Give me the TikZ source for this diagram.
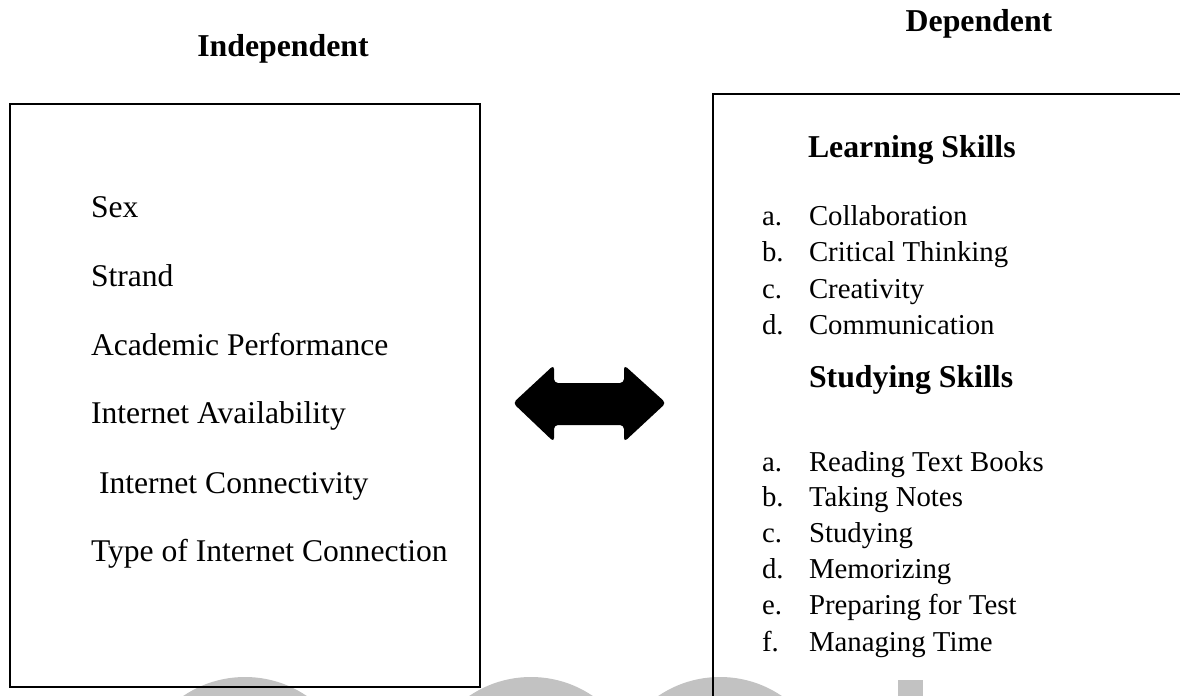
\documentclass[tikz,border=0pt]{standalone}
\usepackage{fontspec}
\setmainfont{Liberation Serif}
\definecolor{wmgrey}{RGB}{194,194,194}
\begin{document}
\begin{tikzpicture}[x=0.5pt,y=-0.5pt,
  every node/.style={inner sep=0pt,outer sep=0pt},
  item/.style={anchor=base west,font=\fontsize{14.4}{17}\selectfont},
  bigitem/.style={anchor=base west,font=\fontsize{15.8}{19}\selectfont},
  head/.style={anchor=base,font=\fontsize{15.9}{19}\selectfont\bfseries},
  subhead/.style={anchor=base west,font=\fontsize{15.9}{19}\selectfont\bfseries},
  frame/.style={draw=black}]
\clip (0,0) rectangle (1180,696);
\fill[white] (0,0) rectangle (1180,696);

% faint grey lettering along the bottom edge
\fill[wmgrey] (245,787) circle (110);
\fill[wmgrey] (531,787) circle (110);
\fill[wmgrey] (720,787) circle (110);
\fill[wmgrey] (898,680) rectangle (923,710);

% column titles
\node[head] (indep) at (283,56) {Independent};
\node[head] (dep) at (979,32) {Dependent};

% left box
\draw[frame,line width=1.3pt] (10,104) rectangle (480,687);
\node[bigitem] (sex) at (91,217) {Sex};
\node[bigitem] (strand) at (91,286) {Strand};
\node[bigitem] (acad) at (91,355) {Academic Performance};
\node[bigitem] (avail) at (91,423) {Internet Availability};
\node[bigitem] (conn) at (99,493) {Internet Connectivity};
\node[bigitem] (type) at (91,561) {Type of Internet Connection};

% right box (runs past the right and bottom edges)
\draw[frame,line width=1.1pt] (1200,94) -- (713,94) -- (713,720);
\node[subhead] (learn) at (808,157) {Learning Skills};
\foreach \l/\t/\y [count=\i] in {a./Collaboration/225, b./Critical Thinking/261,
    c./Creativity/298, d./Communication/334}{
  \node[item] (ll\i) at (762,\y) {\l};
  \node[item] (lt\i) at (809,\y) {\t};
}
\node[subhead] (study) at (809,387) {Studying Skills};
\foreach \l/\t/\y [count=\i] in {a./Reading Text Books/471, b./Taking Notes/506,
    c./Studying/542, d./Memorizing/578, e./Preparing for Test/614, f./Managing Time/651}{
  \node[item] (sl\i) at (762,\y) {\l};
  \node[item] (st\i) at (809,\y) {\t};
}

% two-headed block arrow between the boxes
\fill[black,rounded corners=2pt,line join=round]
  (513,403) -- (554,365) -- (554,383) -- (624,383) -- (624,365) -- (666,403)
  -- (624,442) -- (624,425) -- (554,425) -- (554,442) -- cycle;
\end{tikzpicture}
\end{document}
